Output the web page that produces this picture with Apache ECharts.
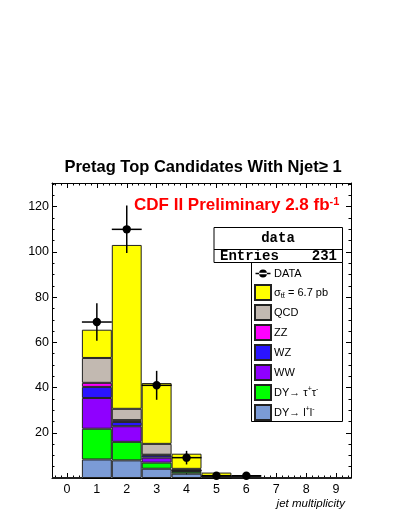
<!DOCTYPE html>
<html>
<head>
<meta charset="utf-8">
<script src="https://cdn.jsdelivr.net/npm/echarts@6/dist/echarts.min.js"></script>
<style>
  html, body { margin: 0; padding: 0; background: #fff }
  #chart { width: 399px; height: 516px }
</style>
</head>
<body>
<div id="chart"></div>
<script>
// jet multiplicity bins
const bins = ['0', '1', '2', '3', '4', '5', '6', '7', '8', '9']

// stacked backgrounds, bottom to top
const dyLL   = [0, 8.2, 7.8, 4.1, 1.9, 0.3, 0.1, 0, 0, 0]
const dyTT   = [0, 13.6, 8.2, 2.7, 0.9, 0.2, 0.05, 0, 0, 0]
const ww     = [0, 13.6, 6.9, 2.2, 0.3, 0.05, 0.02, 0, 0, 0]
const wz     = [0, 4.9, 1.9, 1.0, 0.2, 0.05, 0.02, 0, 0, 0]
const zz     = [0, 1.8, 0.8, 0.3, 0.05, 0, 0, 0, 0, 0]
const qcd    = [0, 11.0, 5.0, 4.8, 0.7, 0.3, 0.1, 0, 0, 0]
const ttbar  = [0, 12.5, 72.5, 26.9, 6.7, 1.5, 0.6, 0.1, 0, 0]

// data points and their errors
const dataCounts = [0, 69, 110, 41, 9, 1, 1, 0, 0, 0]
const dataErr    = [0, 8.3, 10.5, 6.4, 3, 1, 1, 0, 0, 0]

const yTicks = [20, 40, 60, 80, 100, 120]

const stackDefs = [
  { name: 'dyll', values: dyLL, color: '#7b9bd6' },
  { name: 'dytt', values: dyTT, color: '#00ff00' },
  { name: 'ww', values: ww, color: '#8f00ff' },
  { name: 'wz', values: wz, color: '#2a14ff' },
  { name: 'zz', values: zz, color: '#ff00ff' },
  { name: 'qcd', values: qcd, color: '#c2b9b1' },
  { name: 'ttbar', values: ttbar, color: '#ffff00' }
]

const legendLabels = {
  data: 'DATA',
  ttbar: '{n|σ}{sub|tt̄}{n| = 6.7 pb}',
  qcd: 'QCD',
  zz: 'ZZ',
  wz: 'WZ',
  ww: 'WW',
  dytt: 'DY{n|→ τ}{sup|+}{n|τ}{sup|-}',
  dyll: 'DY{n|→ l}{sup|+}{n|l}{sup|-}'
}

const chart = echarts.init(document.getElementById('chart'), null, { renderer: 'canvas' })

const pointData = []
dataCounts.forEach((c, i) => { if (c > 0) pointData.push([i, c, dataErr[i]]) })

function renderPoint(params, api) {
  const x = api.value(0), y = api.value(1), e = api.value(2)
  const c = api.coord([x, y])
  const hi = api.coord([x, y + e])
  const lo = api.coord([x, Math.max(0, y - e)])
  const l = api.coord([x - 0.5, y])
  const r = api.coord([x + 0.5, y])
  const st = { stroke: '#000', lineWidth: 1.5 }
  return {
    type: 'group',
    children: [
      { type: 'line', shape: { x1: c[0], y1: hi[1], x2: c[0], y2: lo[1] }, style: st },
      { type: 'line', shape: { x1: l[0], y1: c[1], x2: r[0], y2: c[1] }, style: st },
      { type: 'circle', shape: { cx: c[0], cy: c[1], r: 4.2 }, style: { fill: '#000' } }
    ]
  }
}

const tickAxisBase = {
  type: 'value',
  gridIndex: 0,
  axisLine: { show: true, onZero: false, lineStyle: { color: '#000', width: 1 } },
  splitLine: { show: false },
  minorSplitLine: { show: false }
}

const xTick = { show: true, inside: true, length: 5, lineStyle: { color: '#000' } }
const xMinor = { show: true, splitNumber: 5, length: 2.5, lineStyle: { color: '#000' } }
const yTick = { show: true, inside: true, length: 5, lineStyle: { color: '#000' } }
const yMinor = { show: true, splitNumber: 4, length: 2.5, lineStyle: { color: '#000' } }

const option = {
  animation: false,
  backgroundColor: '#fff',
  textStyle: { fontFamily: 'Liberation Sans, Arial, sans-serif' },
  grid: { left: 52, right: 48, top: 183, bottom: 38, containLabel: false },
  xAxis: [
    { type: 'category', data: bins, show: false, position: 'bottom', boundaryGap: true },
    Object.assign({}, tickAxisBase, {
      position: 'bottom', min: -0.5, max: 9.5, splitNumber: 10,
      axisTick: xTick, minorTick: xMinor,
      axisLabel: {
        color: '#000', fontSize: 12.5, margin: 5,
        formatter: v => (Math.abs(v - Math.round(v)) < 1e-6 ? String(Math.round(v)) : '')
      }
    }),
    Object.assign({}, tickAxisBase, {
      position: 'top', min: -0.5, max: 9.5, splitNumber: 10,
      axisTick: xTick, minorTick: xMinor,
      axisLabel: { show: false }
    })
  ],
  yAxis: [
    Object.assign({}, tickAxisBase, {
      position: 'left', min: 0, max: 130.5, interval: 20,
      axisTick: yTick, minorTick: yMinor,
      axisLabel: {
        color: '#000', fontSize: 12.5, margin: 3,
        formatter: v => (yTicks.indexOf(v) >= 0 ? String(v) : '')
      }
    }),
    Object.assign({}, tickAxisBase, {
      position: 'right', min: 0, max: 130.5, interval: 20,
      axisTick: yTick, minorTick: yMinor,
      axisLabel: { show: false }
    })
  ],
  legend: {
    orient: 'vertical',
    left: 254,
    top: 266,
    itemWidth: 16,
    itemHeight: 15,
    itemGap: 3,
    padding: 0,
    selectedMode: false,
    data: [
      { name: 'data', icon: 'path://M0,7.3h16v1.4h-16z M8,3.8a4.2,4.2 0 1,0 0.001,0z M8,0h0.01v0.01h-0.01z M8,15.99h0.01v0.01h-0.01z' },
      { name: 'ttbar', icon: 'rect' }, { name: 'qcd', icon: 'rect' }, { name: 'zz', icon: 'rect' },
      { name: 'wz', icon: 'rect' }, { name: 'ww', icon: 'rect' }, { name: 'dytt', icon: 'rect' },
      { name: 'dyll', icon: 'rect' }
    ],
    formatter: name => legendLabels[name],
    textStyle: {
      color: '#000', fontSize: 11, lineHeight: 14, padding: [0, 0, 0, -2],
      rich: {
        n: { fontSize: 11, color: '#000', lineHeight: 14 },
        sub: { fontSize: 7.5, color: '#000', verticalAlign: 'bottom', lineHeight: 14, padding: [5, 0, 0, 0] },
        sup: { fontSize: 7, color: '#000', verticalAlign: 'top', lineHeight: 14, padding: [0, 0, 4, 0] }
      }
    }
  },
  graphic: [
    {
      type: 'text', x: 203, y: 167,
      style: {
        text: 'Pretag Top Candidates With Njet≥ 1', fill: '#000',
        font: 'bold 16.5px "Liberation Sans", Arial, sans-serif',
        textAlign: 'center', textVerticalAlign: 'middle'
      }
    },
    {
      type: 'text', x: 134, y: 205,
      style: {
        text: '{m|CDF II Preliminary 2.8 fb}{s|-1}',
        textVerticalAlign: 'middle',
        rich: {
          m: { fill: '#ff0000', font: 'bold 17px "Liberation Sans", Arial, sans-serif' },
          s: { fill: '#ff0000', font: 'bold 11px "Liberation Sans", Arial, sans-serif', verticalAlign: 'top', padding: [0, 0, 6, 0] }
        }
      }
    },
    {
      type: 'rect', shape: { x: 214, y: 227.5, width: 128.5, height: 35 },
      style: { fill: '#fff', stroke: '#000', lineWidth: 1 }, z: 10
    },
    {
      type: 'line', shape: { x1: 214, y1: 249.5, x2: 342.5, y2: 249.5 },
      style: { stroke: '#000', lineWidth: 1 }, z: 11
    },
    {
      type: 'text', x: 278, y: 238.5, z: 11,
      style: {
        text: 'data', fill: '#000', font: 'bold 14px "Liberation Mono", "Courier New", monospace',
        textAlign: 'center', textVerticalAlign: 'middle'
      }
    },
    {
      type: 'text', x: 220, y: 256.5, z: 11,
      style: {
        text: 'Entries', fill: '#000', font: 'bold 14px "Liberation Mono", "Courier New", monospace',
        textAlign: 'left', textVerticalAlign: 'middle'
      }
    },
    {
      type: 'text', x: 337, y: 256.5, z: 11,
      style: {
        text: '231', fill: '#000', font: 'bold 14px "Liberation Mono", "Courier New", monospace',
        textAlign: 'right', textVerticalAlign: 'middle'
      }
    },
    {
      type: 'rect', shape: { x: 251.5, y: 262.5, width: 91, height: 159 },
      style: { fill: '#fff', stroke: '#000', lineWidth: 1 }, z: 1
    },
    {
      type: 'text', x: 345, y: 504,
      style: {
        text: 'jet multiplicity', fill: '#000',
        font: 'italic 11.5px "Liberation Sans", Arial, sans-serif',
        textAlign: 'right', textVerticalAlign: 'middle'
      }
    }
  ],
  series: stackDefs.map(s => ({
    name: s.name,
    type: 'bar',
    xAxisIndex: 0,
    yAxisIndex: 0,
    stack: 'mc',
    barWidth: '100%',
    barCategoryGap: '0%',
    data: s.values,
    itemStyle: { color: s.color, borderColor: '#222', borderWidth: 1 }
  })).concat([{
    name: 'data',
    type: 'custom',
    xAxisIndex: 1,
    yAxisIndex: 0,
    renderItem: renderPoint,
    itemStyle: { color: '#000' },
    data: pointData,
    z: 5
  }])
}

chart.setOption(option)
</script>
</body>
</html>
